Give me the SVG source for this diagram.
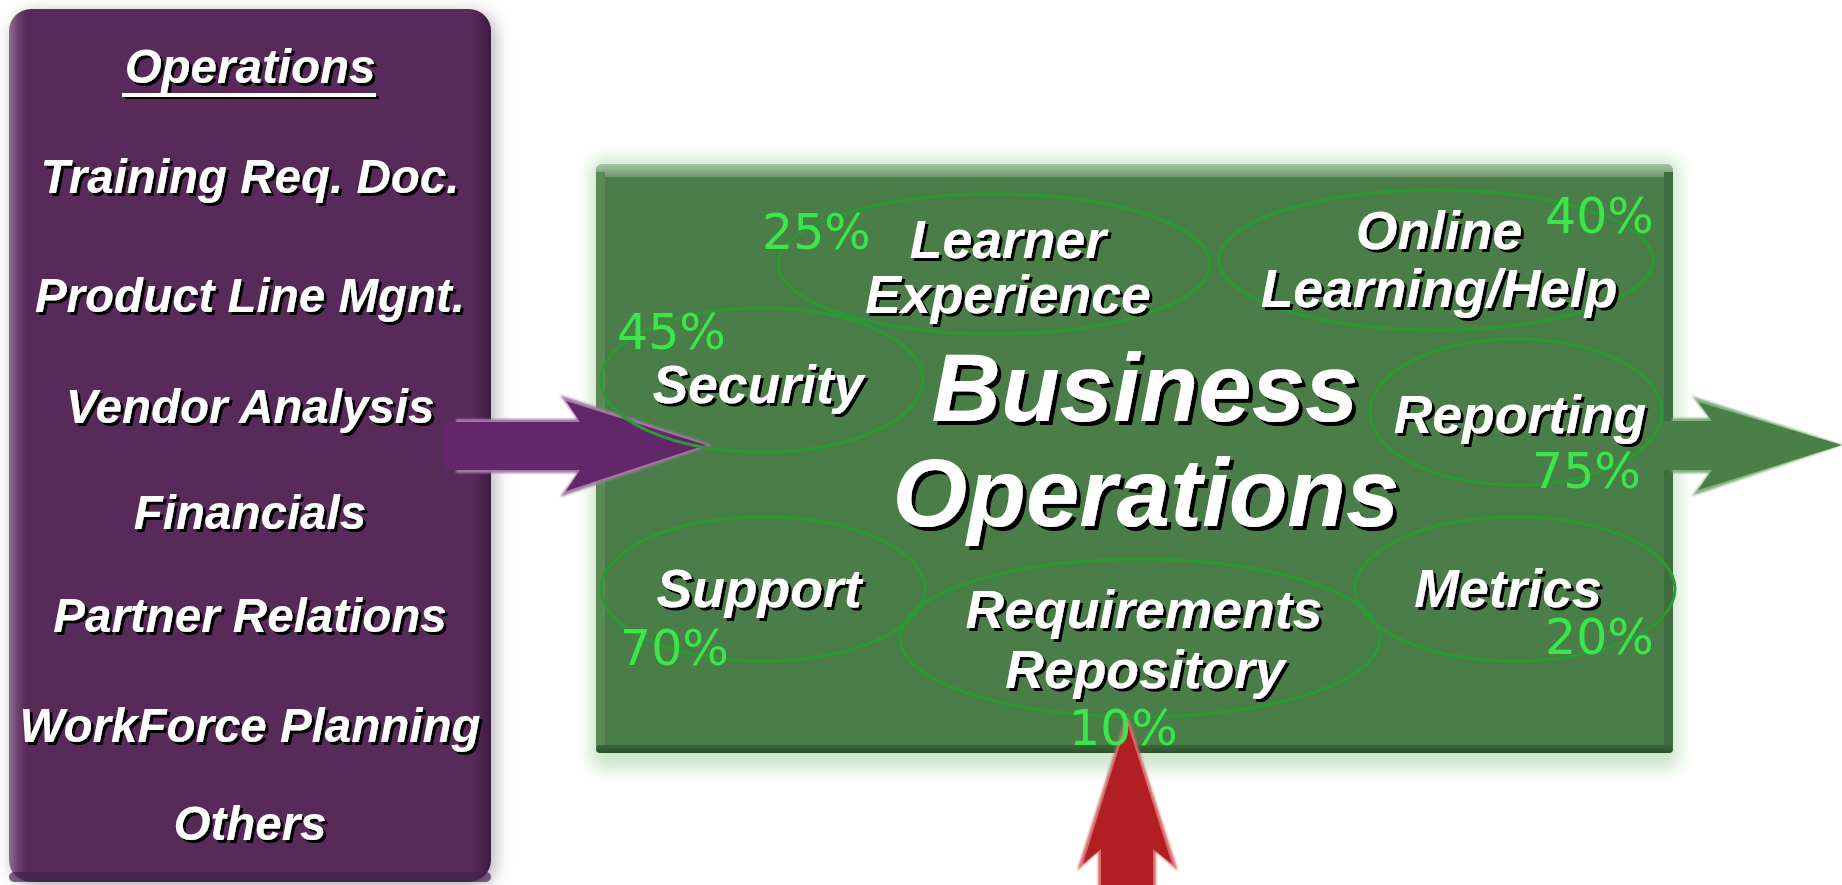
<svg xmlns="http://www.w3.org/2000/svg" width="1842" height="885" viewBox="0 0 1842 885">
  <defs>
    <style>
      .lbl { font-family: "Liberation Sans", Arial, sans-serif; font-weight: bold; font-style: italic; fill: #ffffff; text-anchor: middle; filter: url(#ts); }
      .pl { font-size: 47.5px; }
      .gl { font-size: 53.5px; }
      .big { font-size: 96px; filter: url(#tsb); }
      .pct { font-family: "DejaVu Sans", sans-serif; font-size: 49px; fill: #3ae64b; }
      .ring { fill: none; stroke: #2b9a35; stroke-width: 3; }
    </style>
    <filter id="ts" x="-10%" y="-30%" width="130%" height="160%">
      <feDropShadow dx="3" dy="3" stdDeviation="0.5" flood-color="#000000" flood-opacity="1"/>
    </filter>
    <filter id="tsb" x="-10%" y="-30%" width="130%" height="160%">
      <feDropShadow dx="4" dy="4" stdDeviation="0.6" flood-color="#000000" flood-opacity="1"/>
    </filter>
    <filter id="soft" x="-20%" y="-20%" width="140%" height="140%">
      <feGaussianBlur stdDeviation="8"/>
    </filter>
    <filter id="edge" x="-5%" y="-10%" width="110%" height="120%">
      <feGaussianBlur stdDeviation="1"/>
    </filter>
    <linearGradient id="pgH" x1="0" y1="0" x2="1" y2="0">
      <stop offset="0" stop-color="#8d6f90"/>
      <stop offset="0.018" stop-color="#6e4272"/>
      <stop offset="0.035" stop-color="#582a5a"/>
      <stop offset="0.96" stop-color="#582a5a"/>
      <stop offset="0.985" stop-color="#48214b"/>
      <stop offset="1" stop-color="#3b1b3e"/>
    </linearGradient>
    <linearGradient id="gTop" x1="0" y1="0" x2="0" y2="1">
      <stop offset="0" stop-color="#a3c7a1"/>
      <stop offset="1" stop-color="#6f9a6c"/>
    </linearGradient>
    <linearGradient id="gBot" x1="0" y1="0" x2="0" y2="1">
      <stop offset="0" stop-color="#3a6638"/>
      <stop offset="1" stop-color="#2b522b"/>
    </linearGradient>
  </defs>

  <rect width="1842" height="885" fill="#ffffff"/>

  <!-- Left node: Operations list -->
  <g id="operations-list">
    <rect x="12" y="12" width="484" height="876" rx="24" fill="#bdb5bd" filter="url(#soft)"/>
    <rect x="9" y="9" width="482" height="873" rx="22" fill="url(#pgH)"/>
    <rect x="9" y="872" width="482" height="10" rx="5" fill="#43204a" opacity="0.7"/>
    <text class="lbl pl" x="250" y="83">Operations</text>
    <rect x="122" y="93" width="254" height="4" fill="#ffffff" filter="url(#ts)"/>
    <text class="lbl pl" x="250" y="193">Training Req. Doc.</text>
    <text class="lbl pl" x="250" y="312">Product Line Mgnt.</text>
    <text class="lbl pl" x="250" y="423">Vendor Analysis</text>
    <text class="lbl pl" x="250" y="529">Financials</text>
    <text class="lbl pl" x="250" y="632">Partner Relations</text>
    <text class="lbl pl" x="250" y="742">WorkForce Planning</text>
    <text class="lbl pl" x="250" y="840">Others</text>
  </g>

  <!-- Central node: Business Operations -->
  <g id="business-operations">
    <rect x="590" y="158" width="1089" height="612" rx="12" fill="#cfe5cc" filter="url(#soft)"/>
    <rect x="596" y="164" width="1077" height="589" rx="8" fill="#4a7d47"/>
    <rect x="596" y="164" width="1077" height="13" rx="6" fill="url(#gTop)"/>
    <rect x="596" y="172" width="9" height="575" fill="#5a8b57"/>
    <rect x="1664" y="172" width="9" height="575" fill="#3e6c3c"/>
    <rect x="596" y="745" width="1077" height="8" rx="4" fill="url(#gBot)"/>
  </g>

  <!-- Connectors -->
  <g id="connectors">
    <polygon points="456,419 577,419 560,395 712,445 560,497 577,473 456,473" fill="#a27aa6" filter="url(#edge)"/>
    <polygon points="443,422 580,422 566,401 706,445 566,491 580,470 443,470" fill="#63266a"/>
    <polygon points="1672,418 1709,418 1692,396 1842,445 1692,496 1709,473 1672,473" fill="#7fae7c" filter="url(#edge)"/>
    <polygon points="1655,421 1712,421 1698,402 1842,445 1698,490 1712,470 1655,470" fill="#4a8047"/>
    <polygon points="1098,890 1098,852 1077,871 1127,713 1178,871 1156,852 1156,890" fill="#d46a6a" filter="url(#edge)"/>
    <polygon points="1101,890 1101,849 1083,864 1127,722 1172,864 1153,849 1153,890" fill="#b11f25"/>
  </g>

  <!-- Sub-nodes -->
  <g id="learner-experience">
    <ellipse class="ring" cx="994" cy="264" rx="216" ry="70"/>
    <text class="lbl gl" x="1008" y="258">Learner</text>
    <text class="lbl gl" x="1008" y="313">Experience</text>
    <text class="pct" x="762" y="249">25%</text>
  </g>
  <g id="online-learning">
    <ellipse class="ring" cx="1436" cy="260" rx="217" ry="70"/>
    <text class="lbl gl" x="1439" y="249">Online</text>
    <text class="lbl gl" x="1439" y="307">Learning/Help</text>
    <text class="pct" x="1545" y="233">40%</text>
  </g>
  <g id="security">
    <ellipse class="ring" cx="762" cy="380" rx="161" ry="72"/>
    <text class="lbl gl" x="758" y="403">Security</text>
    <text class="pct" x="617" y="349">45%</text>
  </g>
  <g id="reporting">
    <ellipse class="ring" cx="1516" cy="412" rx="146" ry="73"/>
    <text class="lbl gl" x="1520" y="433">Reporting</text>
    <text class="pct" x="1532" y="488">75%</text>
  </g>
  <g id="support">
    <ellipse class="ring" cx="763" cy="589" rx="162" ry="72"/>
    <text class="lbl gl" x="759" y="607">Support</text>
    <text class="pct" x="620" y="665">70%</text>
  </g>
  <g id="requirements-repository">
    <ellipse class="ring" cx="1140" cy="638" rx="240" ry="79"/>
    <text class="lbl gl" x="1144" y="628">Requirements</text>
    <text class="lbl gl" x="1145" y="688">Repository</text>
    <text class="pct" x="1069" y="745">10%</text>
  </g>
  <g id="metrics">
    <ellipse class="ring" cx="1515" cy="589" rx="160" ry="72"/>
    <text class="lbl gl" x="1508" y="607">Metrics</text>
    <text class="pct" x="1545" y="654">20%</text>
  </g>
  <g id="business-title">
    <text class="lbl big" x="1145" y="421">Business</text>
    <text class="lbl big" x="1146" y="526">Operations</text>
  </g>
</svg>
